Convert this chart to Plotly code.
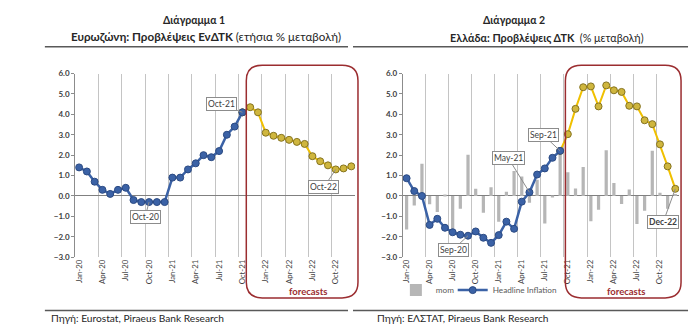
import plotly.graph_objects as go

# ---------------- data ----------------
month_idx = list(range(36))  # Jan-20 .. Dec-22
tick_pos = [0, 3, 6, 9, 12, 15, 18, 21, 24, 27, 30, 33]
tick_labels = ["Jan-20", "Apr-20", "Jul-20", "Oct-20", "Jan-21", "Apr-21", "Jul-21",
               "Oct-21", "Jan-22", "Apr-22", "Jul-22", "Oct-22"]

# Eurozone HICP y/y: actual Jan-20..Oct-21, forecast Oct-21..Dec-22
ez_actual = [1.4, 1.2, 0.7, 0.3, 0.1, 0.3, 0.4, -0.2, -0.3, -0.3, -0.3, -0.3,
             0.9, 0.9, 1.3, 1.6, 2.0, 1.9, 2.2, 3.0, 3.4, 4.1]
ez_forecast = [4.1, 4.35, 4.1, 3.1, 2.95, 2.85, 2.75, 2.65, 2.55, 1.95, 1.7, 1.5, 1.3, 1.35, 1.45]

# Greece CPI y/y: actual Jan-20..Sep-21, forecast Sep-21..Dec-22
gr_actual = [0.87, 0.24, 0.0, -1.42, -1.12, -1.56, -1.78, -1.9, -1.95, -1.74, -2.05, -2.3,
             -1.92, -1.26, -1.61, -0.28, 0.18, 1.05, 1.35, 1.87, 2.21]
gr_forecast = [2.21, 3.03, 4.27, 5.33, 5.37, 4.39, 5.42, 5.18, 5.1, 4.42, 4.39, 3.71, 3.52,
               2.53, 1.45, 0.35]
# Greece CPI m/m
gr_mom = [-1.65, -0.47, 1.58, -0.41, -0.79, 0.05, -1.75, -0.63, 2.02, 0.35, -0.82, 0.43,
          -1.26, 0.2, 1.22, 0.95, -0.33, 0.8, -1.35, -0.07, 2.2, 1.16, 0.36, 1.42,
          -1.24, -0.68, 2.24, 0.63, -0.39, 0.32, -1.38, -0.73, 2.21, 0.16, -0.63, 0.1]

# ---------------- helpers ----------------
W, H = 700, 331
def X(p): return p / W
def Y(p): return 1 - p / H

FONT = "Lato, 'Open Sans', 'Noto Sans', sans-serif"
BLUE = "#3b62a6"
BLUE_D = "#2b4a82"
GOLD = "#f0c000"
GOLD_M = "#cfb63e"
GOLD_D = "#857320"
RED = "#9b2d30"
GRAY_T = "#404040"

fig = go.Figure()

# left chart
fig.add_trace(go.Scatter(x=month_idx[21:], y=ez_forecast, mode="lines+markers",
                         line=dict(color=GOLD, width=2),
                         marker=dict(size=7, color=GOLD_M, line=dict(color=GOLD_D, width=1)),
                         xaxis="x", yaxis="y", showlegend=False))
fig.add_trace(go.Scatter(x=month_idx[:22], y=ez_actual, mode="lines+markers",
                         line=dict(color=BLUE, width=2.5),
                         marker=dict(size=7, color=BLUE, line=dict(color=BLUE_D, width=1)),
                         xaxis="x", yaxis="y", showlegend=False))

# right chart
fig.add_trace(go.Bar(x=month_idx, y=gr_mom, marker=dict(color="#b6b6b6", line=dict(width=0)),
                     width=0.42, name="mom", xaxis="x2", yaxis="y2", legend="legend"))
fig.add_trace(go.Scatter(x=month_idx[20:], y=gr_forecast, mode="lines+markers",
                         line=dict(color=GOLD, width=2),
                         marker=dict(size=7, color=GOLD_M, line=dict(color=GOLD_D, width=1)),
                         xaxis="x2", yaxis="y2", showlegend=False))
fig.add_trace(go.Scatter(x=month_idx[:21], y=gr_actual, mode="lines+markers",
                         name="Headline Inflation", legend="legend2",
                         line=dict(color=BLUE, width=2.5),
                         marker=dict(size=7, color=BLUE, line=dict(color=BLUE_D, width=1)),
                         xaxis="x2", yaxis="y2"))

minor_grid = [t - 0.5 for t in tick_pos[1:]]

def xaxis_cfg(x0, x1, anchor):
    return dict(domain=[X(x0), X(x1)], range=[-0.5, 35.5], anchor=anchor,
                tickmode="array", tickvals=tick_pos, ticktext=tick_labels, tickangle=-90,
                showgrid=False, zeroline=False, showline=False, ticks="",
                tickfont=dict(family=FONT, size=7.8, color=GRAY_T),
                minor=dict(tickmode="array", tickvals=minor_grid, showgrid=True,
                           gridcolor="#c4c4c4", gridwidth=1, ticks=""))

def yaxis_cfg(anchor):
    return dict(domain=[Y(260), Y(70.7)], range=[-3, 6], anchor=anchor, dtick=1,
                tickformat=".1f", showgrid=False, zeroline=True, zerolinecolor="#808080",
                zerolinewidth=1, showline=True, linecolor="#8c8c8c", linewidth=1,
                ticks="outside", ticklen=3, tickcolor="#8c8c8c",
                tickfont=dict(family=FONT, size=8, color=GRAY_T, weight="bold"))

legend_common = dict(orientation="h", xanchor="left", yanchor="middle",
                     font=dict(family=FONT, size=8.2, color="#595959"),
                     bgcolor="rgba(0,0,0,0)", itemwidth=30, tracegroupgap=0)

fig.update_layout(
    width=W, height=H, margin=dict(l=0, r=0, t=0, b=0),
    paper_bgcolor="white", plot_bgcolor="white",
    font=dict(family=FONT, color=GRAY_T),
    xaxis=xaxis_cfg(73.4, 354.2, "y"),
    yaxis=yaxis_cfg("x"),
    xaxis2=xaxis_cfg(401.9, 679.1, "y2"),
    yaxis2=yaxis_cfg("x2"),
    bargap=0.5,
    legend=dict(x=X(395), y=Y(294), **legend_common),
    legend2=dict(x=X(452), y=Y(294), **legend_common),
)

def rrect(x0, y0, x1, y1, r):
    return (f"M {X(x0+r)},{Y(y0)} L {X(x1-r)},{Y(y0)} Q {X(x1)},{Y(y0)} {X(x1)},{Y(y0+r)} "
            f"L {X(x1)},{Y(y1-r)} Q {X(x1)},{Y(y1)} {X(x1-r)},{Y(y1)} "
            f"L {X(x0+r)},{Y(y1)} Q {X(x0)},{Y(y1)} {X(x0)},{Y(y1-r)} "
            f"L {X(x0)},{Y(y0+r)} Q {X(x0)},{Y(y0)} {X(x0+r)},{Y(y0)} Z")

shapes = []
for (a, b) in [(43, 347), (352, 688)]:
    shapes.append(dict(type="line", xref="paper", yref="paper", x0=X(a), x1=X(b),
                       y0=Y(43), y1=Y(43), line=dict(color="#595959", width=1.5)))
    shapes.append(dict(type="line", xref="paper", yref="paper", x0=X(a), x1=X(b),
                       y0=Y(315), y1=Y(315), line=dict(color="#595959", width=1.5)))
shapes.append(dict(type="path", xref="paper", yref="paper", path=rrect(245, 62, 357, 302, 16),
                   line=dict(color=RED, width=1.5), fillcolor="rgba(0,0,0,0)"))
shapes.append(dict(type="path", xref="paper", yref="paper", path=rrect(565, 62, 681, 302, 16),
                   line=dict(color=RED, width=1.5), fillcolor="rgba(0,0,0,0)"))
fig.update_layout(shapes=shapes)

ann = []
def ptext(x, y, text, size, color="#262626", xanchor="center"):
    ann.append(dict(x=X(x), y=Y(y), xref="paper", yref="paper", text=text, showarrow=False,
                    xanchor=xanchor, yanchor="middle",
                    font=dict(family=FONT, size=size, color=color)))

ptext(193, 15, "<b>Διάγραμμα 1</b>", 10.5)
ptext(205, 33, "<b>Ευρωζώνη: Προβλέψεις ΕνΔΤΚ</b> (ετήσια % μεταβολή)", 11.6)
ptext(513, 15, "<b>Διάγραμμα 2</b>", 10.5)
ptext(547, 33, "<b>Ελλάδα: Προβλέψεις ΔΤΚ</b>  (% μεταβολή)", 10.8)
ptext(47, 323, "Πηγή: Eurostat, Piraeus Bank Research", 10.2, xanchor="left")
ptext(374, 323, "Πηγή: ΕΛΣΤΑΤ, Piraeus Bank Research", 10.2, xanchor="left")
ptext(307, 295, "<b>forecasts</b>", 9.5, color=RED)
ptext(626, 295, "<b>forecasts</b>", 9.5, color=RED)

def callout(xa, ya, i, val, text, ax, ay):
    ann.append(dict(x=i, y=val, xref=xa, yref=ya, text=text, showarrow=True,
                    arrowhead=0, arrowwidth=1, arrowcolor="#8c8c8c", ax=ax, ay=ay,
                    bordercolor="#8c8c8c", borderwidth=1, borderpad=1, bgcolor="white",
                    font=dict(family=FONT, size=8.5, color=GRAY_T)))

callout("x", "y", 21, ez_actual[21], "Oct-21", -21, -8)
callout("x", "y", 9, ez_actual[9], "Oct-20", -4, 15)
callout("x", "y", 33, ez_forecast[12], "Oct-22", -12, 18)
callout("x2", "y2", 8, gr_actual[8], "Sep-20", -15, 14)
callout("x2", "y2", 16, gr_actual[16], "May-21", -21, -34)
callout("x2", "y2", 20, gr_actual[20], "Sep-21", -17, -16)
callout("x2", "y2", 35, gr_forecast[15], "<b>Dec-22</b>", -12, 33)

fig.update_layout(annotations=ann)
fig.write_html("out.html")
